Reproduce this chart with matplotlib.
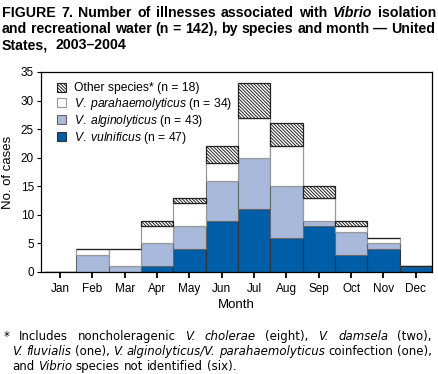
import numpy as np
import matplotlib
matplotlib.use("Agg")
import matplotlib.pyplot as plt
from matplotlib.patches import Patch

# data
months = ["Jan", "Feb", "Mar", "Apr", "May", "Jun", "Jul", "Aug", "Sep", "Oct", "Nov", "Dec"]
vulnificus = [0, 0, 0, 1, 4, 9, 11, 6, 8, 3, 4, 1]
alginolyticus = [0, 3, 1, 4, 4, 7, 9, 9, 1, 4, 1, 0]
parahaemolyticus = [0, 1, 3, 3, 4, 3, 7, 7, 4, 1, 1, 0]
other = [0, 0, 0, 1, 1, 3, 6, 4, 2, 1, 0, 0]

plt.rcParams['font.family'] = ['Liberation Sans', 'DejaVu Sans']
plt.rcParams['mathtext.fontset'] = 'custom'
plt.rcParams['mathtext.it'] = 'Liberation Sans:italic'
plt.rcParams['mathtext.rm'] = 'Liberation Sans'
plt.rcParams['hatch.linewidth'] = 0.7

HATCH = '\\' * 10

W, H = 438, 374
fig = plt.figure(figsize=(W / 100, H / 100), dpi=100)
ax = fig.add_axes([41 / W, 1 - 272 / H, (432 - 41) / W, 200 / H])

x = np.arange(1, 13)
b1 = np.array(vulnificus)
b2 = b1 + np.array(alginolyticus)
b3 = b2 + np.array(parahaemolyticus)

ax.bar(x, vulnificus, width=1.0, color='#005DA8', edgecolor='#333333', linewidth=0.8)
ax.bar(x, alginolyticus, width=1.0, bottom=b1, color='#A9B9DC', edgecolor='#666666', linewidth=0.8)
ax.bar(x, parahaemolyticus, width=1.0, bottom=b2, color='white', edgecolor='#999999', linewidth=0.9)
ax.bar(x, other, width=1.0, bottom=b3, color='white', edgecolor='#222222', linewidth=0.9, hatch=HATCH)

ax.set_xlim(0.41, 12.5)
ax.set_ylim(0, 35)
ax.set_yticks(range(0, 36, 5))
ax.set_xticks(x)
ax.set_xticklabels(months)
ax.tick_params(axis='x', direction='out', length=4, width=1.3, labelsize=8.5, pad=4)
ax.tick_params(axis='y', direction='out', length=3, width=0.8, labelsize=8.5, pad=2)
for s in ax.spines.values():
    s.set_linewidth(0.9)
ax.set_xlabel('Month', fontsize=9.5, labelpad=3)
ax.set_ylabel('No. of cases', fontsize=9.5, labelpad=5)

handles = [
    Patch(facecolor='white', edgecolor='#222222', hatch=HATCH, linewidth=0.8),
    Patch(facecolor='white', edgecolor='#999999', linewidth=0.8),
    Patch(facecolor='#A9B9DC', edgecolor='#666666', linewidth=0.8),
    Patch(facecolor='#005DA8', edgecolor='#333333', linewidth=0.8),
]
labels = [
    'Other species* (n = 18)',
    r'$\it{V.\;parahaemolyticus}$ (n = 34)',
    r'$\it{V.\;alginolyticus}$ (n = 43)',
    r'$\it{V.\;vulnificus}$ (n = 47)',
]
ax.legend(handles, labels, loc='upper left', frameon=False, fontsize=8.7,
          handlelength=0.75, handleheight=0.75, handletextpad=0.6, labelspacing=0.1,
          borderaxespad=0.3, bbox_to_anchor=(0.02, 0.99))

renderer = fig.canvas.get_renderer()


def rich_line(px, py, parts, justify_to=None, **kw):
    # draw text segments one after another on a baseline (pixel coords);
    # with justify_to, spread words so the line ends at that pixel
    words = []
    for s, style in parts:
        for i, w in enumerate(s.split(' ')):
            if i > 0:
                words.append((None, style))
            if w:
                words.append((w, style))
    space = fig.text(0, 0, 'a a', **kw).get_window_extent(renderer).width - \
        fig.text(0, 0, 'aa', **kw).get_window_extent(renderer).width
    fig.texts[-2:] = []
    items = []
    for w, style in words:
        if w is None:
            items.append(None)
        else:
            t = fig.text(0, 0, w, style=style, va='baseline', ha='left', **kw)
            items.append(t)
    n_sp = sum(1 for it in items if it is None)
    total = sum(it.get_window_extent(renderer).width for it in items if it is not None)
    gap = space
    if justify_to is not None and n_sp:
        gap = (justify_to - px - total) / n_sp
    for it in items:
        if it is None:
            px += gap
        else:
            it.set_position((px / W, 1 - py / H))
            px += it.get_window_extent(renderer).width


tfont = dict(fontsize=10.2, fontweight='bold', family=['Liberation Sans'])
rich_line(2, 17, [('FIGURE 7. Number of illnesses associated with ', 'normal'),
                  ('Vibrio', 'italic'), (' isolation', 'normal')], justify_to=436, **tfont)
rich_line(2, 33, [('and recreational water (n = 142), by species and month \u2014 United', 'normal')], **tfont)
rich_line(2, 49, [('States,  2003\u20132004', 'normal')], **tfont)

ffont = dict(fontsize=8.5, family=['DejaVu Sans'])
rich_line(4, 340, [('* Includes noncholeragenic ', 'normal'), ('V. cholerae', 'italic'),
                   (' (eight), ', 'normal'), ('V. damsela', 'italic'), (' (two),', 'normal')],
          justify_to=432, **ffont)
rich_line(12, 355, [('V. fluvialis', 'italic'), (' (one), ', 'normal'),
                    ('V. alginolyticus/V. parahaemolyticus', 'italic'), (' coinfection (one),', 'normal')],
          justify_to=432, **ffont)
rich_line(12, 370, [('and ', 'normal'), ('Vibrio', 'italic'), (' species not identified (six).', 'normal')], **ffont)

fig.savefig('out.png', dpi=100)
